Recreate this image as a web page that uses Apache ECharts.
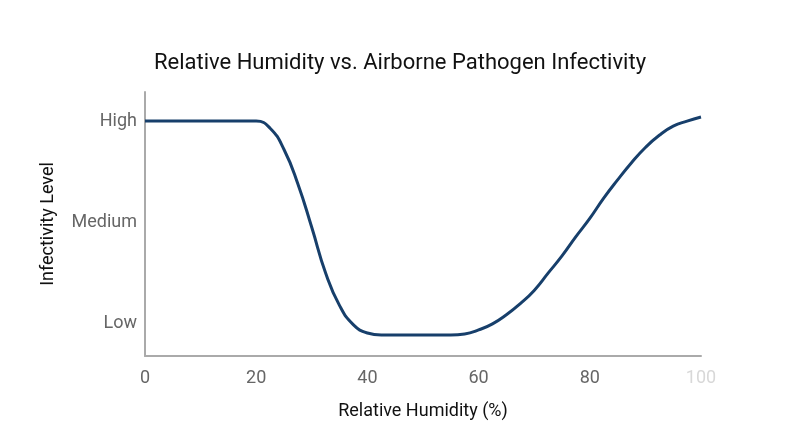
<!DOCTYPE html>
<html>
<head>
<meta charset="utf-8">
<script src="https://cdn.jsdelivr.net/npm/echarts@6/dist/echarts.min.js"></script>
<style>
html,body{margin:0;padding:0;background:#fff;}
#chart{width:800px;height:447px;}
</style>
</head>
<body>
<div id="chart"></div>
<script>
const humidity = [0, 2.5, 5, 7.5, 10, 12.5, 15, 17.5, 20, 22.5, 25, 27.5, 30, 32.5, 35, 37.5, 40, 42.5, 45, 47.5, 50, 52.5, 55, 57.5, 60, 62.5, 65, 67.5, 70, 72.5, 75, 77.5, 80, 82.5, 85, 87.5, 90, 92.5, 95, 97.5, 100];
const infectivity = [3, 3, 3, 3, 3, 3, 3, 3, 3, 2.93, 2.72, 2.38, 1.95, 1.5, 1.18, 0.99, 0.91, 0.89, 0.89, 0.89, 0.89, 0.89, 0.89, 0.9, 0.94, 1.0, 1.09, 1.2, 1.33, 1.5, 1.67, 1.86, 2.04, 2.24, 2.42, 2.59, 2.74, 2.86, 2.95, 3.0, 3.04];
const levelValues = [1, 2, 3];
const levelLabels = ['Low', 'Medium', 'High'];
const xTicks = [0, 20, 40, 60, 80, 100];

const chart = echarts.init(document.getElementById('chart'));
chart.setOption({
  animation: false,
  textStyle: { fontFamily: 'Roboto' },
  title: {
    text: 'Relative Humidity vs. Airborne Pathogen Infectivity',
    left: 'center',
    top: 47,
    textStyle: { fontFamily: 'Roboto', fontSize: 22, fontWeight: 'normal', color: '#111' }
  },
  grid: { left: 145, right: 99, top: 92, bottom: 91, containLabel: false },
  xAxis: {
    type: 'value',
    min: 0, max: 100, interval: 20,
    name: 'Relative Humidity (%)',
    nameLocation: 'middle',
    nameGap: 46,
    nameTextStyle: { fontFamily: 'Roboto', fontSize: 18, color: '#111' },
    axisLine: { show: true, lineStyle: { color: '#aaa', width: 2 } },
    axisTick: { show: false },
    splitLine: { show: false },
    axisLabel: {
      margin: 13,
      fontSize: 18,
      color: '#666',
      formatter: function (v) {
        return v === xTicks[xTicks.length - 1] ? '{faint|' + v + '}' : String(v);
      },
      rich: { faint: { color: '#d8d8d8', fontSize: 18, fontFamily: 'Roboto' } }
    }
  },
  yAxis: {
    type: 'value',
    min: 0.683, max: 3.287,
    name: 'Infectivity Level',
    nameLocation: 'middle',
    nameGap: 88,
    nameTextStyle: { fontFamily: 'Roboto', fontSize: 18, color: '#111' },
    axisLine: { show: true, lineStyle: { color: '#aaa', width: 2 } },
    axisTick: { show: false },
    splitLine: { show: false },
    axisLabel: {
      customValues: levelValues,
      margin: 8,
      fontSize: 18,
      color: '#666',
      formatter: function (v) {
        const i = levelValues.indexOf(Math.round(v));
        return i >= 0 ? levelLabels[i] : '';
      }
    }
  },
  series: [{
    type: 'line',
    data: humidity.map((h, i) => [h, infectivity[i]]),
    smooth: 0.5,
    showSymbol: false,
    lineStyle: { color: '#173f6b', width: 3 },
    clip: false
  }]
});
</script>
</body>
</html>
